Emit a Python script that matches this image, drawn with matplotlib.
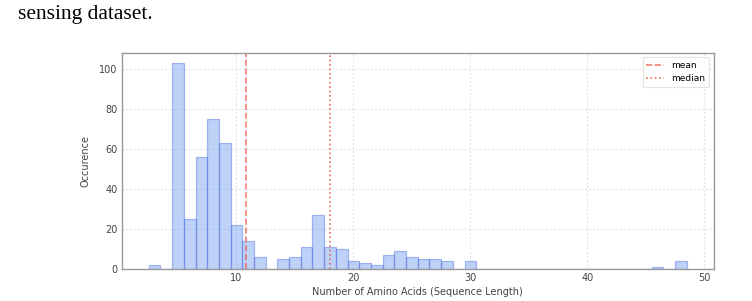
import numpy as np
import matplotlib.pyplot as plt

# sequence lengths and how often they occur
lengths = np.arange(3, 49)
counts = [2, 0, 103, 25, 56, 75, 63, 22, 14, 6, 0, 5, 6, 11, 27, 11, 10, 4, 3, 2,
          7, 9, 6, 5, 5, 4, 0, 4, 0, 0, 0, 0, 0, 0, 0, 0, 0, 0, 0, 0,
          0, 0, 0, 1, 0, 4]
mean_len = 10.85
median_len = 18.0

bin_edges = np.arange(2.5, 49.5, 1.0)

fig = plt.figure(figsize=(7.52, 3.01), dpi=100)
ax = fig.add_axes([0.162, 0.106, 0.787, 0.719])

ax.hist(lengths, bins=bin_edges, weights=counts, color='cornflowerblue', alpha=0.42,
        edgecolor='#4466dd', linewidth=0.9)
ax.axvline(mean_len, color='#e8604c', linestyle='--', linewidth=1.2, alpha=0.8, label='mean')
ax.axvline(median_len, color='#e8604c', linestyle=':', linewidth=1.2, alpha=0.9, label='median')

ax.set_xlim(0.2, 50.8)
ax.set_ylim(0, 108.15)
ax.set_xticks([10, 20, 30, 40, 50])
ax.set_yticks([0, 20, 40, 60, 80, 100])
ax.tick_params(length=0, labelsize=7, colors='#444444', pad=3)
ax.grid(True, linestyle=(0, (1.5, 2)), color='#dddddd', linewidth=0.8)
ax.set_axisbelow(True)
for s in ax.spines.values():
    s.set_color('#999999')
    s.set_linewidth(1.0)

ax.set_xlabel('Number of Amino Acids (Sequence Length)', fontsize=7, color='#444444', labelpad=3)
ax.set_ylabel('Occurence', fontsize=7, color='#444444', labelpad=6)

leg = ax.legend(loc='upper right', fontsize=6.5, frameon=True, handlelength=2.0)
leg.get_frame().set_edgecolor('#dddddd')
leg.get_frame().set_linewidth(0.8)

fig.text(0.024, 0.985, 'sensing dataset.', family='Liberation Serif', fontsize=15.5,
         va='top', ha='left')

fig.savefig('out.png', dpi=100)
